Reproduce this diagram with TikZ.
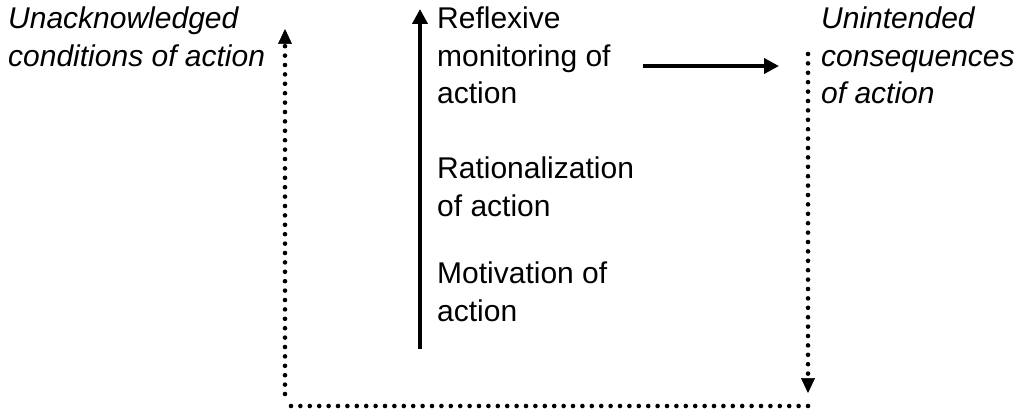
\documentclass[tikz,border=0pt]{standalone}
\usepackage{fontspec}
\setmainfont{Liberation Sans}
\usetikzlibrary{arrows.meta}
\begin{document}
\begin{tikzpicture}[x=1pt,y=-1pt,
  lbl/.style={anchor=north west,inner sep=0pt,align=left,font=\fontsize{30}{37.5}\selectfont},
  ilbl/.style={lbl,font=\fontsize{30}{37.5}\selectfont\itshape},
  solidarrow/.style={line width=4pt,-{Triangle[length=15pt,width=15pt]}},
  dotline/.style={line width=4.6pt,line cap=round,dash pattern=on 0pt off 9.4pt},
  dotarrow/.style={dotline,-{Triangle[length=15pt,width=14pt,line width=0.5pt]}}]
\useasboundingbox (0,0) rectangle (1016,411);
% texts
\node[ilbl] (unack) at (8,7) {Unacknowledged\\conditions of action};
\node[lbl] (reflex) at (437,7) {Reflexive\\monitoring of\\action};
\node[lbl] (ration) at (437,157) {Rationalization\\of action};
\node[lbl] (motiv) at (437,262) {Motivation of\\action};
\node[ilbl] (unint) at (821,7) {Unintended\\consequences\\of action};
% solid arrows
\coordinate (vbot) at (420,349);
\coordinate (vtop) at (420,9);
\draw[solidarrow] (vbot) -- (vtop);
\coordinate (hl) at (643,66);
\coordinate (hr) at (779,66);
\draw[solidarrow] (hl) -- (hr);
% dotted loop
\coordinate (rtop) at (808,54);
\coordinate (rbot) at (808,393);
\coordinate (bl) at (287,406);
\coordinate (br) at (808,406);
\coordinate (lbot) at (285,394);
\coordinate (ltop) at (285,29);
\draw[dotarrow] (rtop) -- (rbot);
\draw[dotline] (br) -- (bl);
\draw[dotarrow] (lbot) -- (ltop);
\end{tikzpicture}
\end{document}
